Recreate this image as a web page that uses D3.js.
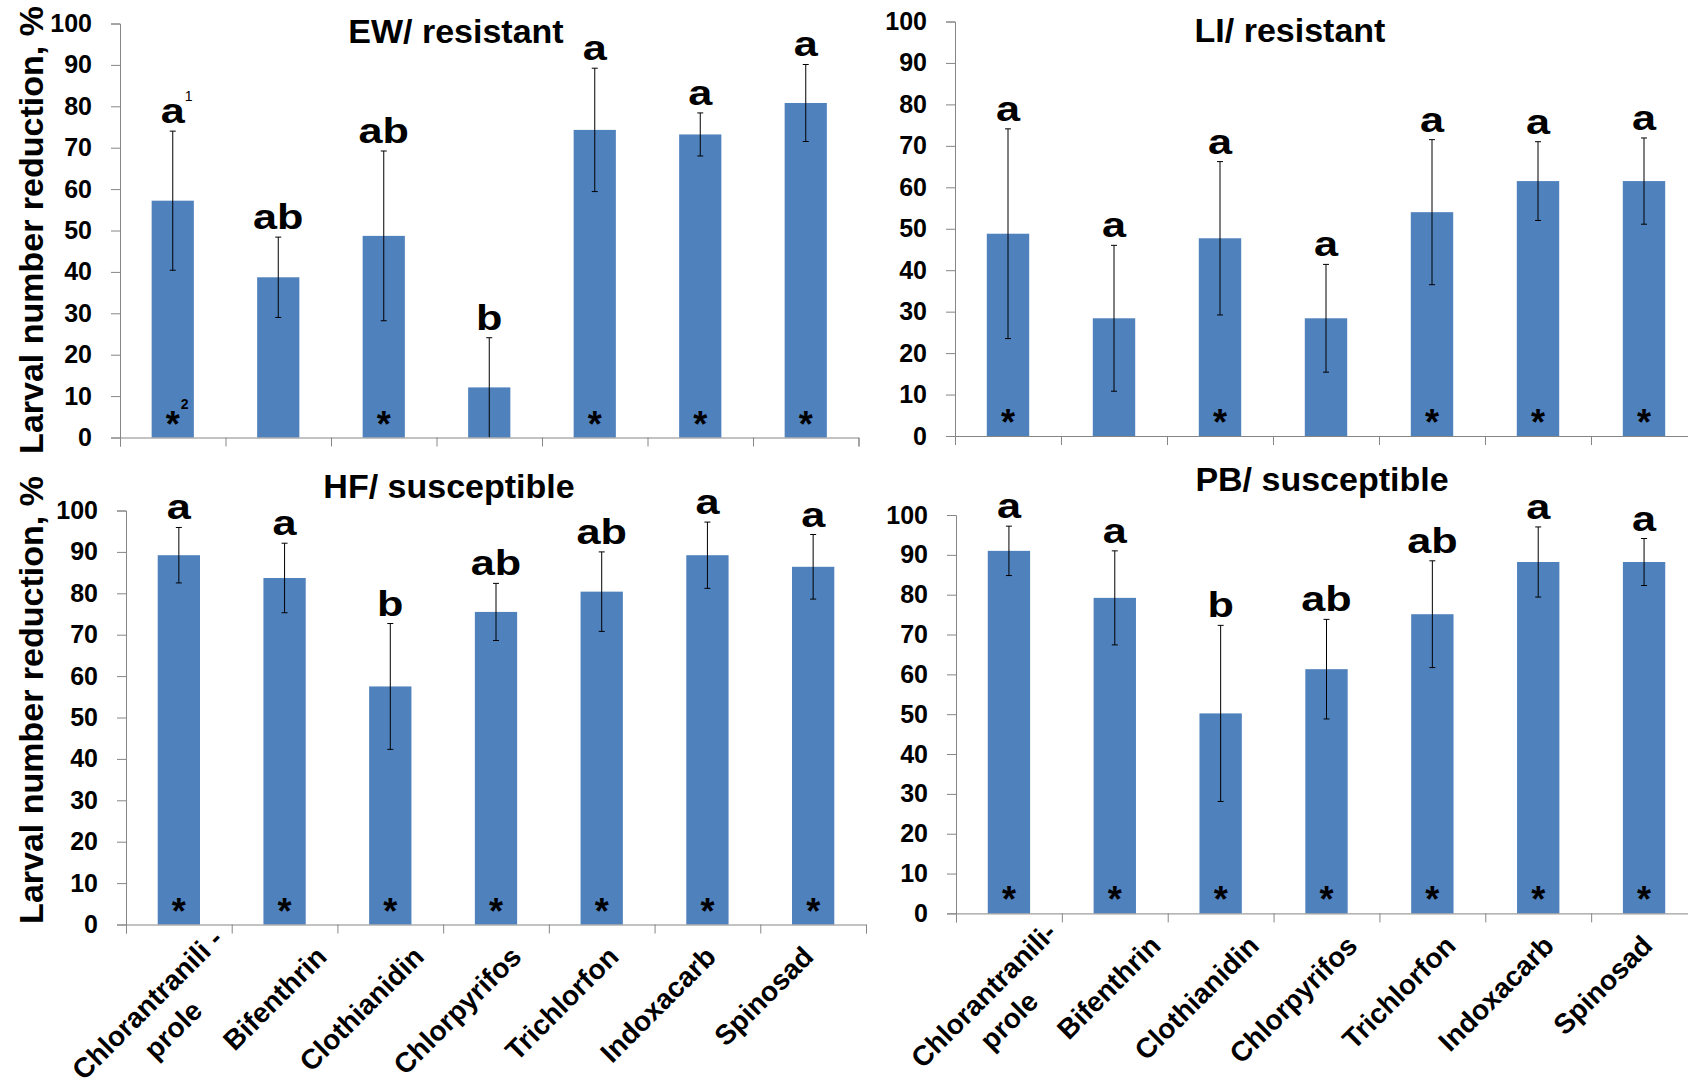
<!DOCTYPE html>
<html><head><meta charset="utf-8">
<script src="https://cdn.jsdelivr.net/npm/d3@7"></script>
<style>
body{margin:0;background:#fff}
svg{display:block}
text{font-family:Arial,"Liberation Sans",sans-serif;fill:#000}
</style>
</head><body>
<svg id="chart" width="1688" height="1087"></svg>
<script>
// ---------- data ----------
const categories = ["Chlorantraniliprole","Bifenthrin","Clothianidin","Chlorpyrifos","Trichlorfon","Indoxacarb","Spinosad"];
const xLabelsHF = [["Chlorantranili -","prole"],["Bifenthrin"],["Clothianidin"],["Chlorpyrifos"],["Trichlorfon"],["Indoxacarb"],["Spinosad"]];
const xLabelsPB = [["Chlorantranili-","prole"],["Bifenthrin"],["Clothianidin"],["Chlorpyrifos"],["Trichlorfon"],["Indoxacarb"],["Spinosad"]];
const yTicks = [0,10,20,30,40,50,60,70,80,90,100];
const yTitle = "Larval number reduction, %";

const ewMeans   = [57.2, 38.7, 48.7, 12.1, 74.3, 73.2, 80.8];
const ewErrors  = [16.8,  9.7, 20.5, 12.0, 14.9,  5.2,  9.3];
const ewLetters = ["a","ab","ab","b","a","a","a"];
const ewLetterNotes = ["1","","","","","",""];
const ewStars   = [true,false,true,false,true,true,true];
const ewStarNotes = ["2","","","","","",""];

const liMeans   = [48.8, 28.4, 47.7, 28.4, 54.0, 61.5, 61.5];
const liErrors  = [25.3, 17.6, 18.5, 13.0, 17.5,  9.5, 10.4];
const liLetters = ["a","a","a","a","a","a","a"];
const liStars   = [true,false,true,false,true,true,true];

const hfMeans   = [89.2, 83.7, 57.5, 75.5, 80.4, 89.2, 86.4];
const hfErrors  = [ 6.7,  8.4, 15.2,  6.9,  9.6,  8.0,  7.8];
const hfLetters = ["a","a","b","ab","ab","a","a"];
const hfStars   = [true,true,true,true,true,true,true];

const pbMeans   = [91.0, 79.2, 50.2, 61.3, 75.1, 88.2, 88.2];
const pbErrors  = [ 6.2, 11.8, 22.1, 12.5, 13.4,  8.8,  5.9];
const pbLetters = ["a","a","b","ab","ab","a","a"];
const pbStars   = [true,true,true,true,true,true,true];

// ---------- layout ----------
const panels = [
  {title:"EW/ resistant",   means:ewMeans, errs:ewErrors, letters:ewLetters, letterNotes:ewLetterNotes, stars:ewStars, starNotes:ewStarNotes,
   x0:120, x1:858.5, y0:437.5, y100:23.5, tx:456, ty:43, labels:null},
  {title:"LI/ resistant",   means:liMeans, errs:liErrors, letters:liLetters, stars:liStars,
   x0:955, x1:1697, y0:436, y100:21.5, tx:1290, ty:42, labels:null},
  {title:"HF/ susceptible", means:hfMeans, errs:hfErrors, letters:hfLetters, stars:hfStars,
   x0:126, x1:866, y0:924.5, y100:510.5, tx:449, ty:498, labels:xLabelsHF, lab0:231, lab1:815, ml:[8,-17]},
  {title:"PB/ susceptible", means:pbMeans, errs:pbErrors, letters:pbLetters, stars:pbStars,
   x0:956, x1:1697, y0:913.4, y100:515, tx:1322, ty:491, labels:xLabelsPB, lab0:1064, lab1:1654, ml:[5,-13.5]}
];

const svg = d3.select("#chart");
const axisColor = "#868686";
const barColor = "#4F81BD";
const labelFont = 28;

panels.forEach(p => {
  const g = svg.append("g");
  const y = d3.scaleLinear().domain([0,100]).range([p.y0, p.y100]);
  const xb = d3.scaleBand().domain(categories).range([p.x0, p.x1]).paddingInner(0.6).paddingOuter(0.3);
  const xi = d3.scaleLinear().domain([0, categories.length]).range([p.x0, p.x1]);
  const cx = c => xb(c) + xb.bandwidth()/2;
  const idx = c => categories.indexOf(c);

  // bars
  g.selectAll("rect.bar").data(categories).join("rect")
    .attr("x", c => xb(c)).attr("width", xb.bandwidth())
    .attr("y", (c,i) => y(p.means[i])).attr("height", (c,i) => y(0) - y(p.means[i]))
    .attr("fill", barColor);

  // y axis
  const ya = g.append("g").attr("transform", `translate(${p.x0},0)`)
    .call(d3.axisLeft(y).tickValues(yTicks).tickSize(9).tickPadding(19).tickFormat(d3.format("d")));
  ya.select(".domain").attr("stroke", axisColor);
  ya.selectAll(".tick line").attr("stroke", axisColor);
  ya.selectAll(".tick text").attr("font-size", 25).attr("font-weight", "bold").attr("fill", "#000")
    .style("font-family", "Arial, 'Liberation Sans', sans-serif");

  // x axis (ticks between categories)
  const xa = g.append("g").attr("transform", `translate(0,${p.y0})`)
    .call(d3.axisBottom(xi).tickValues(d3.range(categories.length + 1)).tickSize(9).tickFormat(""));
  xa.select(".domain").attr("stroke", axisColor);
  xa.selectAll(".tick line").attr("stroke", axisColor);

  // error bars
  const eb = g.selectAll("g.err").data(categories).join("g").attr("class","err");
  eb.append("line").attr("x1", cx).attr("x2", cx)
    .attr("y1", (c,i) => y(Math.max(0, p.means[i] - p.errs[i]))).attr("y2", (c,i) => y(p.means[i] + p.errs[i]))
    .attr("stroke", "#000").attr("stroke-width", 1);
  eb.append("line").attr("x1", c => cx(c) - 3).attr("x2", c => cx(c) + 3)
    .attr("y1", (c,i) => y(p.means[i] + p.errs[i])).attr("y2", (c,i) => y(p.means[i] + p.errs[i]))
    .attr("stroke", "#000").attr("stroke-width", 1);
  eb.filter(c => p.means[idx(c)] - p.errs[idx(c)] > 0.5).append("line")
    .attr("x1", c => cx(c) - 3).attr("x2", c => cx(c) + 3)
    .attr("y1", c => y(p.means[idx(c)] - p.errs[idx(c)]))
    .attr("y2", c => y(p.means[idx(c)] - p.errs[idx(c)]))
    .attr("stroke", "#000").attr("stroke-width", 1);

  // significance letters
  g.selectAll("text.letter").data(categories).join("text").attr("class","letter")
    .attr("transform", (c,i) => `translate(${cx(c)},${y(p.means[i] + p.errs[i]) - 8}) scale(1.2,1)`)
    .attr("text-anchor", "middle").attr("font-size", 36).attr("font-weight", "bold")
    .text((c,i) => p.letters[i]);
  if (p.letterNotes) {
    g.selectAll("text.lnote").data(categories.filter((c,i) => p.letterNotes[i])).join("text")
      .attr("x", c => cx(c) + 12)
      .attr("y", c => y(p.means[idx(c)] + p.errs[idx(c)]) - 30)
      .attr("font-size", 14).text(c => p.letterNotes[idx(c)]);
  }

  // stars
  g.selectAll("text.star").data(categories.filter((c,i) => p.stars[i])).join("text")
    .attr("x", cx).attr("y", y(0) - 1)
    .attr("text-anchor", "middle").attr("font-size", 36).attr("font-weight", "bold")
    .text("*");
  if (p.starNotes) {
    g.selectAll("text.snote").data(categories.filter((c,i) => p.starNotes[i])).join("text")
      .attr("x", c => cx(c) + 8).attr("y", y(0) - 29)
      .attr("font-size", 14).attr("font-weight", "bold").text(c => p.starNotes[idx(c)]);
  }

  // title
  g.append("text").attr("x", p.tx).attr("y", p.ty).attr("text-anchor", "middle")
    .attr("font-size", 34).attr("font-weight", "bold").text(p.title);

  // x labels (rotated, anchored at the end of the baseline)
  if (p.labels) {
    const lx = d3.scaleLinear().domain([0, categories.length - 1]).range([p.lab0, p.lab1]);
    categories.forEach((c, i) => {
      const lines = p.labels[i];
      const lg = g.append("g").attr("transform", `translate(${lx(i)},${p.y0 + 34}) rotate(-45)`);
      if (lines.length === 1) {
        lg.append("text").attr("x", 0).attr("y", 0).attr("text-anchor", "end")
          .attr("font-size", labelFont).attr("font-weight", "bold").text(lines[0]);
      } else {
        const [ax, ay] = p.ml;
        const t1 = lg.append("text").attr("x", ax).attr("y", ay).attr("text-anchor", "end")
          .attr("font-size", labelFont).attr("font-weight", "bold").text(lines[0]);
        const L1 = t1.node().getComputedTextLength();
        lg.append("text").attr("x", ax - L1/2).attr("y", ay + 36).attr("text-anchor", "middle")
          .attr("font-size", labelFont).attr("font-weight", "bold").text(lines[1]);
      }
    });
  }
});

// y axis titles
[230, 700].forEach(cy => {
  svg.append("text").attr("transform", `translate(43,${cy}) rotate(-90)`)
    .attr("text-anchor", "middle").attr("font-size", 34).attr("font-weight", "bold").text(yTitle);
});
</script>
</body></html>
